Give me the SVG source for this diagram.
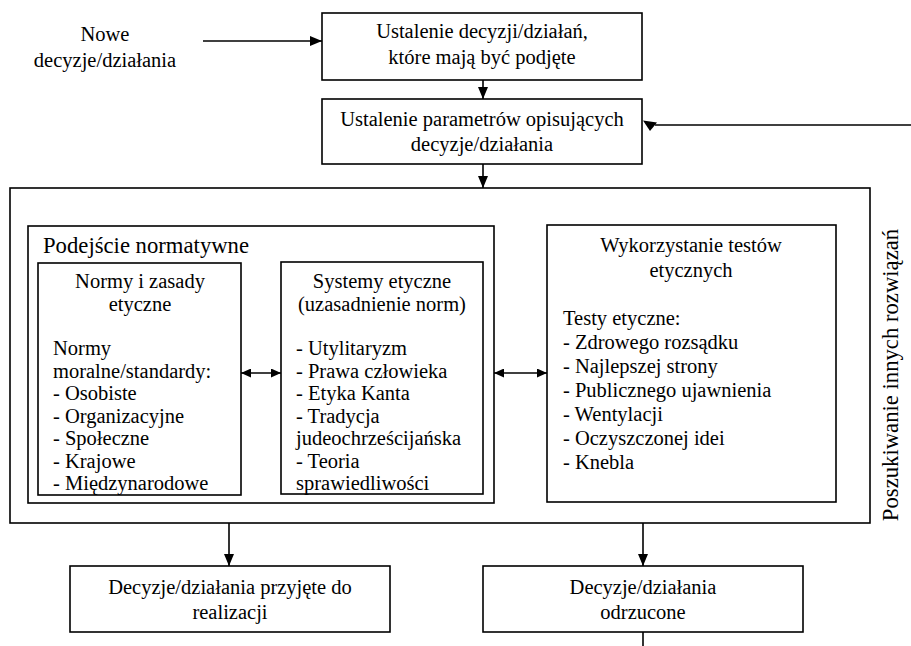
<svg xmlns="http://www.w3.org/2000/svg" width="911" height="646" viewBox="0 0 911 646">
<defs>
<style>
text{font-size:20.5px;fill:#000}
.c{text-anchor:middle}
.big{font-size:22.7px}
.box{fill:#fff;stroke:#000;stroke-width:1.6}
.ln{stroke:#000;stroke-width:1.6;fill:none}
.head{fill:#000;stroke:none}
</style>
<marker id="ah" viewBox="0 0 12 10" refX="12" refY="5" markerWidth="12" markerHeight="10" markerUnits="userSpaceOnUse" orient="auto-start-reverse">
<path d="M0,0 L12,5 L0,10 Z" fill="#000"/>
</marker>
<marker id="ahs" viewBox="0 0 10 9" refX="10" refY="4.5" markerWidth="10" markerHeight="9" markerUnits="userSpaceOnUse" orient="auto-start-reverse">
<path d="M0,0 L10,4.5 L0,9 Z" fill="#000"/>
</marker>
</defs>
<rect width="911" height="646" fill="#fff"/>
<g font-family="'Liberation Serif', 'Times New Roman', serif">

<g id="nowe">
<text class="c" x="105" y="41">Nowe</text>
<text class="c" x="105" y="67">decyzje/działania</text>
</g>

<g id="ustalenie-decyzji">
<rect class="box" x="322" y="13" width="320" height="67"/>
<text class="c" x="482" y="38">Ustalenie decyzji/działań,</text>
<text class="c" x="482" y="64">które mają być podjęte</text>
</g>

<g id="ustalenie-parametrow">
<rect class="box" x="322" y="99" width="320" height="65"/>
<text class="c" x="482" y="126">Ustalenie parametrów opisujących</text>
<text class="c" x="482" y="151">decyzje/działania</text>
</g>

<g id="outer">
<rect class="box" x="10" y="188" width="860" height="335"/>
</g>

<g id="podejscie">
<rect class="box" x="28" y="226" width="466" height="277"/>
<text class="big" x="43" y="253">Podejście normatywne</text>
</g>

<g id="normy">
<rect class="box" x="38" y="263" width="203" height="232"/>
<text class="c" x="140" y="288">Normy i zasady</text>
<text class="c" x="140" y="311">etyczne</text>
<text x="53" y="355">Normy</text>
<text x="53" y="378">moralne/standardy:</text>
<text x="53" y="400">- Osobiste</text>
<text x="53" y="423">- Organizacyjne</text>
<text x="53" y="445">- Społeczne</text>
<text x="53" y="468">- Krajowe</text>
<text x="53" y="490">- Międzynarodowe</text>
</g>

<g id="systemy">
<rect class="box" x="281" y="262" width="202" height="232"/>
<text class="c" x="382" y="288">Systemy etyczne</text>
<text class="c" x="382" y="311">(uzasadnienie norm)</text>
<text x="296" y="355">- Utylitaryzm</text>
<text x="296" y="378">- Prawa człowieka</text>
<text x="296" y="400">- Etyka Kanta</text>
<text x="296" y="423">- Tradycja</text>
<text x="296" y="445">judeochrześcijańska</text>
<text x="296" y="468">- Teoria</text>
<text x="296" y="490">sprawiedliwości</text>
</g>

<g id="testy">
<rect class="box" x="547" y="225" width="289" height="277"/>
<text class="c" x="691" y="252">Wykorzystanie testów</text>
<text class="c" x="691" y="277">etycznych</text>
<text x="563" y="325">Testy etyczne:</text>
<text x="563" y="349">- Zdrowego rozsądku</text>
<text x="563" y="373">- Najlepszej strony</text>
<text x="563" y="397">- Publicznego ujawnienia</text>
<text x="563" y="421">- Wentylacji</text>
<text x="563" y="445">- Oczyszczonej idei</text>
<text x="563" y="469">- Knebla</text>
</g>

<g id="poszukiwanie">
<text class="c big" transform="translate(898,375) rotate(-90)">Poszukiwanie innych rozwiązań</text>
</g>

<g id="przyjete">
<rect class="box" x="70" y="566" width="320" height="66"/>
<text class="c" x="230" y="594">Decyzje/działania przyjęte do</text>
<text class="c" x="230" y="619">realizacji</text>
</g>

<g id="odrzucone">
<rect class="box" x="483" y="566" width="320" height="66"/>
<text class="c" x="643" y="594">Decyzje/działania</text>
<text class="c" x="643" y="619">odrzucone</text>
</g>
</g>

<g id="connectors">
<line class="ln" x1="203" y1="41" x2="322" y2="41" marker-end="url(#ah)"/>
<line class="ln" x1="483" y1="80" x2="483" y2="99" marker-end="url(#ah)"/>
<line class="ln" x1="483" y1="164" x2="483" y2="188" marker-end="url(#ah)"/>
<line class="ln" x1="911" y1="125" x2="655" y2="125"/>
<path class="head" d="M643,120.5 L657,122.5 L650,131 Z"/>
<line class="ln" x1="241" y1="373" x2="281" y2="373" marker-start="url(#ahs)" marker-end="url(#ahs)"/>
<line class="ln" x1="494" y1="373" x2="547" y2="373" marker-start="url(#ahs)" marker-end="url(#ahs)"/>
<line class="ln" x1="229" y1="523" x2="229" y2="566" marker-end="url(#ah)"/>
<line class="ln" x1="643" y1="523" x2="643" y2="566" marker-end="url(#ah)"/>
<line class="ln" x1="643" y1="632" x2="643" y2="646"/>
</g>
</svg>
